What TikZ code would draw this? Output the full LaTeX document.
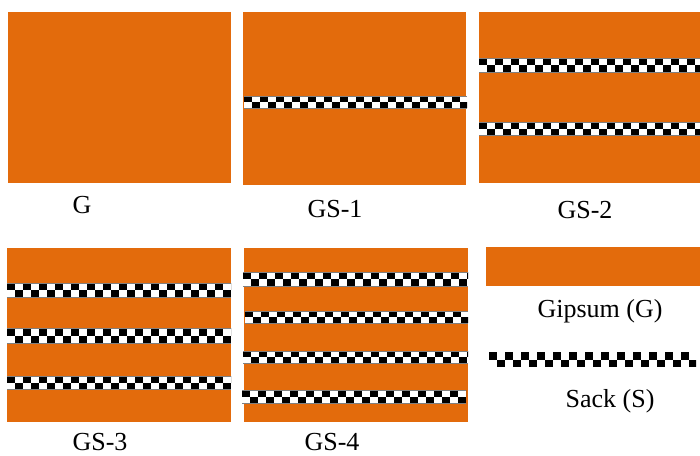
\documentclass[tikz,border=0pt]{standalone}
\usepackage{fontspec}
\setmainfont{Liberation Serif}
\definecolor{gypsum}{HTML}{E36B0C}
\definecolor{seam}{HTML}{808080}

% checkered sack layer: #1,#2 = top-left corner, #3,#4 = bottom-right corner
\newcommand{\sackband}[4]{%
  \begin{scope}
    \clip (#1,#2) rectangle (#3,#4);
    \fill[white] (#1,#2) rectangle (#3,#4);
    \pgfmathsetmacro{\bandmid}{(#2+#4)/2}
    \foreach \k in {0,...,14}{%
      \fill[black] ({#1+16*\k},#2) rectangle ({#1+16*\k+8},\bandmid);
      \fill[black] ({#1+16*\k+8},\bandmid) rectangle ({#1+16*\k+16},#4);
    }
  \end{scope}}
% sack layer inside a panel, with its thin seams
\newcommand{\sackseam}[4]{%
  \sackband{#1}{#2}{#3}{#4}
  \draw[seam, line width=0.6pt] (#1,#2) -- (#3,#2) (#1,#4) -- (#3,#4);}

\tikzset{
  gypsumbox/.style={fill=gypsum},
  caption/.style={anchor=base, inner sep=0pt, font=\fontsize{19.5}{22}\selectfont}
}

\begin{document}
\begin{tikzpicture}[x=0.75pt, y=-0.75pt]
  \useasboundingbox (0,0) rectangle (700,455);

  % G
  \fill[gypsumbox] (8,12) rectangle (231,183);
  \node[caption] (capG) at (82,213) {G};

  % GS-1
  \fill[gypsumbox] (243,12) rectangle (466,185);
  \sackseam{244}{96}{467}{108}
  \node[caption] (capGS1) at (335,217) {GS-1};

  % GS-2
  \fill[gypsumbox] (479,12) rectangle (700,183);
  \sackseam{479}{58}{700}{72}
  \sackseam{479}{122}{700}{135}
  \node[caption] (capGS2) at (585,218) {GS-2};

  % GS-3
  \fill[gypsumbox] (7,248) rectangle (231,422);
  \sackseam{7}{283}{231}{297}
  \sackseam{7}{328}{231}{343}
  \sackseam{7}{376}{231}{389}
  \node[caption] (capGS3) at (100,450) {GS-3};

  % GS-4
  \fill[gypsumbox] (244,248) rectangle (468,422);
  \sackseam{243}{272}{468}{286}
  \sackseam{245}{311}{468}{323}
  \sackseam{243}{351}{468}{363}
  \sackseam{242}{390}{466}{403}
  \node[caption] (capGS4) at (332,450) {GS-4};

  % legend
  \fill[gypsumbox] (486,247) rectangle (700,286);
  \node[caption] (legG) at (600,317) {Gipsum (G)};
  \sackband{489}{352}{696}{367}
  \node[caption] (legS) at (610,407) {Sack (S)};
\end{tikzpicture}
\end{document}
